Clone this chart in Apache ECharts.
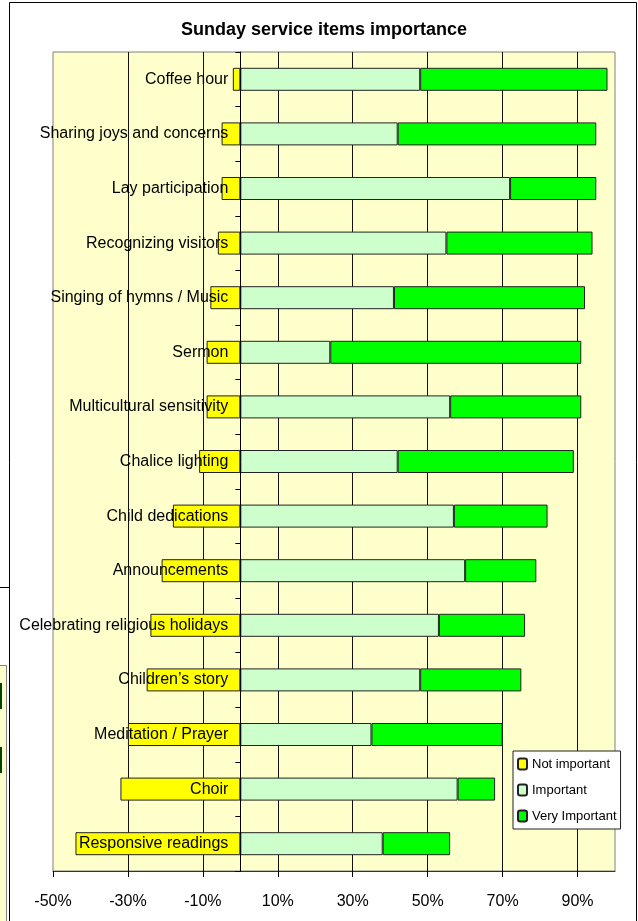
<!DOCTYPE html>
<html>
<head>
<meta charset="utf-8">
<title>Sunday service items importance</title>
<script src="https://cdn.jsdelivr.net/npm/echarts@6/dist/echarts.min.js"></script>
<style>
    html, body { margin: 0; padding: 0; background: #fff; }
    #importanceChart { width: 638px; height: 921px; }
</style>
</head>
<body>
<div id="importanceChart"></div>
<script>
// Categories from top to bottom
const categories = [
    'Coffee hour',
    'Sharing joys and concerns',
    'Lay participation',
    'Recognizing visitors',
    'Singing of hymns / Music',
    'Sermon',
    'Multicultural sensitivity',
    'Chalice lighting',
    'Child dedications',
    'Announcements',
    'Celebrating religious holidays',
    'Children\u2019s story',
    'Meditation / Prayer',
    'Choir',
    'Responsive readings'
];

// Percentages (not important is drawn to the left of zero)
const notImportant = [-2, -5, -5, -6, -8, -9, -9, -11, -18, -21, -24, -25, -30, -32, -44];
const important = [48, 42, 72, 55, 41, 24, 56, 42, 57, 60, 53, 48, 35, 58, 38];
const veryImportant = [50, 53, 23, 39, 51, 67, 35, 47, 25, 19, 23, 27, 35, 10, 18];

const seriesNames = ['Not important', 'Important', 'Very Important'];
const seriesColors = ['#ffff00', '#ccffcc', '#00ff00'];

const FONT = '"Liberation Sans", Arial, sans-serif';

const X_MIN = -50;
const X_MAX = 100;
const GRID_LEFT = 53;
const GRID_RIGHT = 23;
const CHART_W = 638;

function makeSeries(name, values, color) {
    return {
        name: name,
        type: 'bar',
        stack: 'total',
        barWidth: 23,
        data: values,
        itemStyle: {
            color: color,
            borderColor: '#222',
            borderWidth: 1
        },
        emphasis: { disabled: true }
    };
}

function initImportanceChart() {
    const chartDom = document.getElementById('importanceChart');
    if (!chartDom) return;

    const chart = echarts.init(chartDom, null, { renderer: 'canvas' });

    // category axis sits on the 0% line, so shift it in from the grid's left edge
    const plotW = CHART_W - GRID_LEFT - GRID_RIGHT;
    const zeroOffset = (0 - X_MIN) / (X_MAX - X_MIN) * plotW;

    const option = {
        animation: false,
        backgroundColor: '#fff',
        textStyle: { fontFamily: FONT },
        title: {
            text: 'Sunday service items importance',
            left: 176,
            top: 16,
            textStyle: {
                fontFamily: FONT,
                fontSize: 18,
                fontWeight: 'bold',
                color: '#000'
            }
        },
        legend: {
            data: seriesNames,
            orient: 'vertical',
            left: 513,
            top: 751,
            padding: [5, 4, 5, 4],
            itemWidth: 9,
            itemHeight: 11,
            itemGap: 10,
            backgroundColor: '#fff',
            borderColor: '#222',
            borderWidth: 1,
            borderRadius: 0,
            selectedMode: false,
            textStyle: {
                fontFamily: FONT,
                fontSize: 13,
                lineHeight: 16,
                color: '#000'
            }
        },
        grid: {
            left: GRID_LEFT,
            right: GRID_RIGHT,
            top: 52,
            bottom: 50,
            containLabel: false,
            outerBoundsMode: 'none',
            show: true,
            backgroundColor: '#ffffcc',
            borderColor: '#808080',
            borderWidth: 1
        },
        xAxis: {
            type: 'value',
            min: X_MIN,
            max: X_MAX,
            interval: 20,
            axisLine: { show: true, lineStyle: { color: '#333', width: 1 } },
            axisTick: { show: true, length: 6, lineStyle: { color: '#000' } },
            axisLabel: {
                fontFamily: FONT,
                fontSize: 16,
                color: '#000',
                margin: 23,
                showMaxLabel: false,
                formatter: function (value) {
                    return value + '%';
                }
            },
            splitLine: {
                show: true,
                showMinLine: false,
                showMaxLine: false,
                lineStyle: { color: '#111', width: 1 }
            }
        },
        yAxis: {
            type: 'category',
            data: categories,
            inverse: true,
            z: 10,
            offset: -zeroOffset,
            axisLine: { show: true, onZero: false, lineStyle: { color: '#000', width: 1 } },
            axisTick: { show: true, length: 5, lineStyle: { color: '#000' } },
            axisLabel: {
                fontFamily: FONT,
                fontSize: 16,
                color: '#000',
                margin: 12
            },
            splitLine: { show: false }
        },
        graphic: [
            // outer chart frame
            {
                type: 'rect',
                shape: { x: 9.5, y: 2.5, width: 627, height: 930 },
                style: { fill: 'none', stroke: '#000', lineWidth: 1 },
                silent: true
            },
            // bits of another chart peeking out on the left
            {
                type: 'line',
                shape: { x1: 0, y1: 587.5, x2: 9, y2: 587.5 },
                style: { stroke: '#000', lineWidth: 1 },
                silent: true
            },
            {
                type: 'rect',
                shape: { x: -2, y: 665.5, width: 8.5, height: 270 },
                style: { fill: '#ffffcc', stroke: '#808080', lineWidth: 1 },
                silent: true
            },
            {
                type: 'rect',
                shape: { x: 0, y: 683, width: 2, height: 26 },
                style: { fill: '#004400' },
                silent: true
            },
            {
                type: 'rect',
                shape: { x: 0, y: 747, width: 2, height: 26 },
                style: { fill: '#004400' },
                silent: true
            }
        ],
        series: [
            makeSeries(seriesNames[0], notImportant, seriesColors[0]),
            makeSeries(seriesNames[1], important, seriesColors[1]),
            makeSeries(seriesNames[2], veryImportant, seriesColors[2])
        ]
    };

    chart.setOption(option);
}

document.addEventListener('DOMContentLoaded', function () {
    if (typeof echarts !== 'undefined') {
        initImportanceChart();
    }
});
</script>
</body>
</html>
